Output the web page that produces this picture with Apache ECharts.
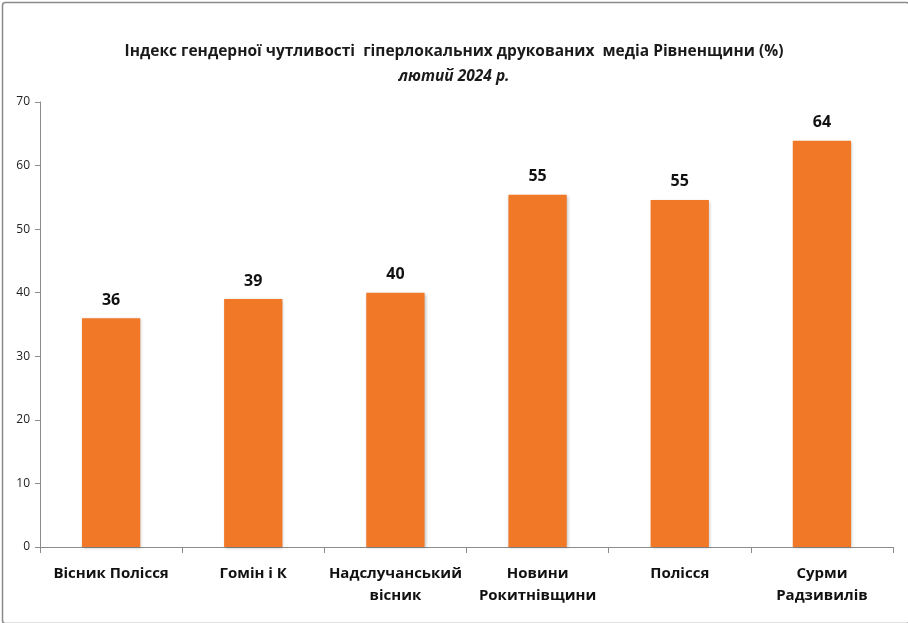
<!DOCTYPE html>
<html style="height: 100%" lang="uk">
<head>
    <meta charset="utf-8">
    <script type="text/javascript" src="https://cdn.jsdelivr.net/npm/echarts@6/dist/echarts.min.js"></script>
    <title>Індекс гендерної чутливості</title>
</head>
<body style="height: 100%; margin: 0">
<div id="container" style="width: 908px; height: 623px"></div>
</body>
<script type="text/javascript">
    let categories = ['Вісник Полісся', 'Гомін і К', 'Надслучанський\nвісник', 'Новини\nРокитнівщини', 'Полісся', 'Сурми\nРадзивилів'];
    let values = [36, 39, 40, 55.4, 54.6, 63.9];
    let yTicks = [0, 10, 20, 30, 40, 50, 60, 70];

    let dom = document.getElementById("container");
    let myChart = echarts.init(dom);
    let fontFamily = '"Open Sans", "Noto Sans", sans-serif';
    let option = {
        animation: false,
        backgroundColor: '#fff',
        graphic: [{
            type: 'rect',
            left: 0, top: 0,
            shape: {width: 907, height: 621, r: 3},
            style: {fill: 'none', stroke: '#8a8a8a', lineWidth: 1.5},
            silent: true
        }],
        title: {
            text: 'Індекс гендерної чутливості  гіперлокальних друкованих  медіа Рівненщини (%)',
            subtext: 'лютий 2024 р.',
            left: 'center',
            top: 39,
            itemGap: 9,
            textStyle: {
                fontFamily: fontFamily,
                fontSize: 15.5,
                fontWeight: 'bold',
                color: '#1a1a1a'
            },
            subtextStyle: {
                fontFamily: fontFamily,
                fontSize: 15.5,
                fontWeight: 'bold',
                fontStyle: 'italic',
                color: '#1a1a1a'
            }
        },
        grid: {
            left: 40,
            right: 15,
            top: 102,
            bottom: 76
        },
        xAxis: {
            type: 'category',
            data: categories,
            axisLine: {lineStyle: {color: '#8c8c8c', width: 1}},
            axisTick: {show: true, alignWithLabel: false, length: 6, lineStyle: {color: '#8c8c8c'}},
            axisLabel: {
                interval: 0,
                margin: 16,
                fontFamily: fontFamily,
                fontSize: 15,
                fontWeight: 'bold',
                color: '#111',
                lineHeight: 22
            }
        },
        yAxis: {
            type: 'value',
            min: yTicks[0],
            max: yTicks[yTicks.length - 1],
            interval: 10,
            splitLine: {show: false},
            axisLine: {show: true, lineStyle: {color: '#8c8c8c', width: 1}},
            axisTick: {show: true, length: 5, lineStyle: {color: '#8c8c8c'}},
            axisLabel: {
                margin: 10,
                fontFamily: fontFamily,
                fontSize: 12,
                color: '#222'
            }
        },
        series: [{
            type: 'bar',
            data: values,
            barWidth: '41%',
            itemStyle: {
                color: '#F07826',
                shadowColor: 'rgba(0,0,0,0.25)',
                shadowBlur: 3,
                shadowOffsetX: 1,
                shadowOffsetY: 1
            },
            label: {
                show: true,
                position: 'top',
                distance: 10,
                fontFamily: fontFamily,
                fontSize: 16,
                fontWeight: 'bold',
                color: '#111',
                formatter: function (p) { return Math.round(p.value); }
            }
        }]
    };
    myChart.setOption(option);
</script>
</html>
